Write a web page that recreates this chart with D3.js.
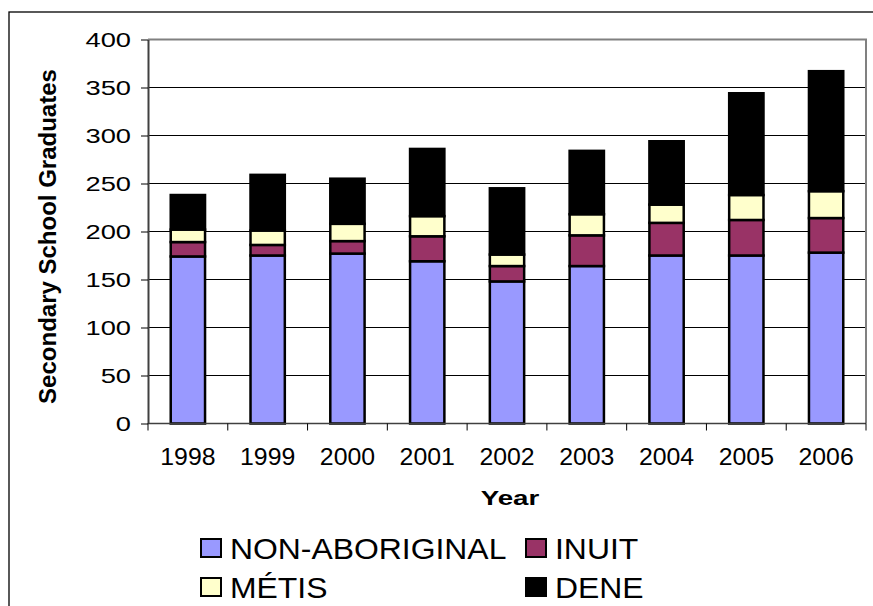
<!DOCTYPE html>
<html><head><meta charset="utf-8">
<script src="https://cdn.jsdelivr.net/npm/d3@7"></script>
<style>
body{margin:0;background:#fff;}
text{font-family:"Liberation Sans",Arial,sans-serif;}
</style></head>
<body><svg id="c" width="873" height="606"></svg>
<script>
const years = ["1998","1999","2000","2001","2002","2003","2004","2005","2006"];
const seriesNames = ["NON-ABORIGINAL","INUIT","MÉTIS","DENE"];
const seriesColors = ["#9999FF","#993366","#FFFFCC","#000000"];
const nonAboriginal = [174,175,177,169,148,164,175,175,178];
const inuit = [15,11,13,26,16,32,34,37,36];
const metis = [13,15,18,21,12,22,19,26,28];
const dene = [36,58,47,70,69,66,66,106,125];
const yTicks = [0,50,100,150,200,250,300,350,400];

const rows = years.map((y,i)=>({year:y,"NON-ABORIGINAL":nonAboriginal[i],"INUIT":inuit[i],"MÉTIS":metis[i],"DENE":dene[i]}));
const stack = d3.stack().keys(seriesNames)(rows);

const svg = d3.select("#c");
const L=148, R=866, T=39.5, B=423.5;

// outer chart border
svg.append("rect").attr("x",9).attr("y",12).attr("width",900).attr("height",700)
  .attr("fill","none").attr("stroke","#000").attr("stroke-width",1.3);

const x = d3.scaleBand().domain(years).range([L,R]).paddingInner(0.57).paddingOuter(0.285);
const y = d3.scaleLinear().domain([0,400]).range([B,T]);
const step = x.step();

// gridlines
svg.append("g").selectAll("line").data(yTicks.filter(v=>v>0&&v<400)).join("line")
  .attr("x1",L).attr("x2",R).attr("y1",d=>y(d)).attr("y2",d=>y(d))
  .attr("stroke","#000").attr("stroke-width",1);

// plot area border (top/right gray)
svg.append("path").attr("d",`M${L},${y(400)}H${R}V${B}`).attr("fill","none")
  .attr("stroke","#808080").attr("stroke-width",2);

// bars
svg.append("g").selectAll("g").data(stack).join("g")
  .attr("fill",(d,i)=>seriesColors[i])
  .selectAll("rect").data(d=>d).join("rect")
  .attr("x",d=>x(d.data.year)).attr("width",x.bandwidth())
  .attr("y",d=>y(d[1])).attr("height",d=>y(d[0])-y(d[1]))
  .attr("stroke","#000").attr("stroke-width",2.5);

// y axis
const ySX = 1.3;
const ya = svg.append("g").attr("transform",`translate(${L},0)`)
  .call(d3.axisLeft(y).tickValues(yTicks).tickSize(7).tickPadding(9).tickSizeOuter(0));
ya.select(".domain").attr("stroke","#404040").attr("stroke-width",2);
ya.selectAll(".tick line").attr("stroke","#000").attr("stroke-width",1);
ya.selectAll(".tick text").attr("font-size",21).attr("fill","#000")
  .attr("font-family","Liberation Sans, Arial, sans-serif")
  .attr("x",-17/ySX).attr("transform",`scale(${ySX},1)`);

// x axis
svg.append("line").attr("x1",L).attr("x2",R).attr("y1",B).attr("y2",B).attr("stroke","#404040").attr("stroke-width",1.5);
svg.append("g").selectAll("line").data(d3.range(years.length+1)).join("line")
  .attr("x1",i=>L+i*step).attr("x2",i=>L+i*step).attr("y1",B).attr("y2",B+7)
  .attr("stroke","#000").attr("stroke-width",1);
svg.append("g").selectAll("text").data(years).join("text")
  .attr("transform",d=>`translate(${x(d)+x.bandwidth()/2},465) scale(1.08,1)`)
  .attr("text-anchor","middle")
  .attr("font-size",23).attr("fill","#000").text(d=>d);

// axis titles
svg.append("text").attr("transform","translate(510,505) scale(1.32,1)").attr("text-anchor","middle")
  .attr("font-size",21).attr("font-weight","bold").text("Year");
svg.append("text").attr("transform",`translate(56,${(68+405)/2}) rotate(-90)`)
  .attr("text-anchor","middle").attr("font-size",24).attr("font-weight","bold")
  .text("Secondary School Graduates");

// legend
const legPos = [[201,548],[526,548],[201,587],[526,587]];
const lg = svg.append("g").selectAll("g").data(seriesNames).join("g")
  .attr("transform",(d,i)=>`translate(${legPos[i][0]},${legPos[i][1]})`);
lg.append("rect").attr("x",0).attr("y",-9).attr("width",20).attr("height",18)
  .attr("fill",(d,i)=>seriesColors[i]).attr("stroke","#000").attr("stroke-width",2);
lg.append("text").attr("transform","translate(29,11) scale(1.1,1)")
  .attr("font-size",29).attr("fill","#000").text(d=>d);
</script></body></html>
